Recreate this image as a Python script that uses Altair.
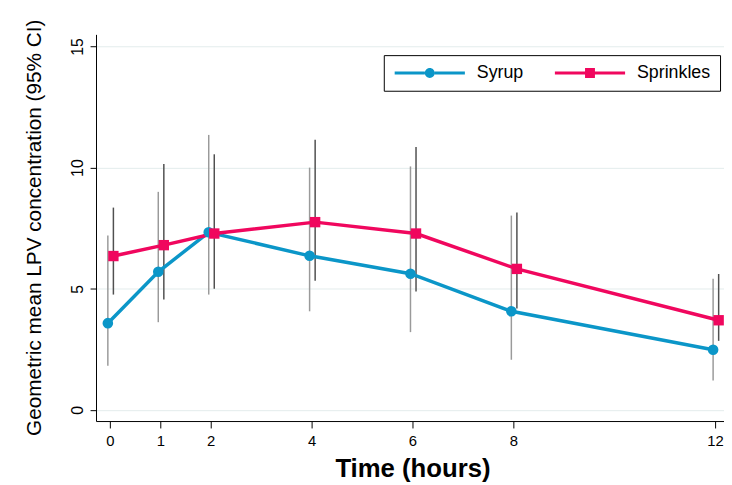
import altair as alt
import pandas as pd

# ---- data ----
times = [0, 1, 2, 4, 6, 8, 12]
series_names = ["Syrup", "Sprinkles"]

syrup_mean = [3.58, 5.70, 7.33, 6.36, 5.62, 4.07, 2.48]
syrup_lo = [1.82, 3.62, 4.76, 4.07, 3.21, 2.07, 1.21]
syrup_hi = [7.20, 9.00, 11.35, 10.00, 10.05, 8.02, 5.41]

spr_mean = [6.35, 6.80, 7.28, 7.75, 7.28, 5.82, 3.70]
spr_lo = [4.76, 4.56, 5.00, 5.33, 4.89, 4.19, 2.85]
spr_hi = [8.35, 10.15, 10.55, 11.15, 10.85, 8.15, 5.61]

rows = []
for t, m, lo, hi in zip(times, syrup_mean, syrup_lo, syrup_hi):
    rows.append({"time": t, "series": "Syrup", "mean": m, "lo": lo, "hi": hi})
for t, m, lo, hi in zip(times, spr_mean, spr_lo, spr_hi):
    rows.append({"time": t, "series": "Sprinkles", "mean": m, "lo": lo, "hi": hi})
df = pd.DataFrame(rows)

# ---- style ----
FONT = "Liberation Sans"
C_SYR = "#0b96c8"
C_SPR = "#f0075e"

SYR_PATH = ("M-1,-0.214H3.356V0.214H-1Z M4.784,-0.214H9.14V0.214H4.784Z "
            "M4.784,0A0.714,0.714 0 1,1 3.356,0A0.714,0.714 0 1,1 4.784,0Z")
SPR_PATH = "M-1,-0.214H9.14V0.214H-1Z M3.356,-0.714H4.784V0.714H3.356Z"

x_scale = alt.Scale(domain=[-0.2745, 12.176], nice=False, zero=False)
y_scale = alt.Scale(domain=[-0.46, 15.5], nice=False, zero=False)

x_axis = alt.Axis(
    values=times, title="Time (hours)", grid=False, format="d",
    tickSize=7, tickColor="black", domainColor="black", domainWidth=1,
    labelFontSize=15, labelPadding=6, labelFlush=False, labelOverlap=False,
    labelColor="black",
    titleFontSize=26, titleFontWeight="bold", titleColor="black",
    titleX=320, titleY=56, titleAlign="center", titleBaseline="alphabetic",
)
y_axis = alt.Axis(
    values=[0, 5, 10, 15], title="Geometric mean LPV concentration (95% CI)",
    grid=True, gridColor="#e3ecec", gridWidth=1,
    tickSize=6, tickColor="black", domainColor="black", domainWidth=1,
    labelAngle=270, labelAlign="center", labelBaseline="bottom",
    labelPadding=5, labelFontSize=16, labelColor="black", labelFlush=False,
    titleFontSize=21, titleFontWeight="normal", titleColor="black",
    titleAngle=270, titleX=-56, titleY=195, titleAlign="center",
    titleBaseline="alphabetic",
)

legend = alt.Legend(
    orient="none", legendX=291, legendY=21, direction="horizontal",
    title=None, strokeColor="black", fillColor="white", padding=9,
    labelFont=FONT, labelFontSize=18, labelColor="black",
    symbolSize=196, symbolStrokeWidth=0, symbolOpacity=1,
    labelOffset=67, columnPadding=29,
)

color_scale = alt.Scale(domain=series_names, range=[C_SYR, C_SPR])
legend_shape_scale = alt.Scale(domain=series_names, range=[SYR_PATH, SPR_PATH])

base = alt.Chart(df).transform_calculate(
    xpos="datum.time + (datum.series === 'Syrup' ? -0.04 : 0.07)",
    ecol="datum.series === 'Syrup' ? '#9a9a9a' : '#505050'",
)

X = alt.X("xpos:Q", scale=x_scale, axis=x_axis)
Y = alt.Y("mean:Q", scale=y_scale, axis=y_axis)
COLOR = alt.Color("series:N", scale=color_scale, legend=legend)

rules = base.mark_rule(strokeWidth=1.5).encode(
    x=X,
    y=alt.Y("lo:Q", scale=y_scale, axis=y_axis),
    y2="hi:Q",
    stroke=alt.Stroke("ecol:N", scale=None),
)

lines = base.mark_line(strokeWidth=3.5).encode(
    x=X, y=Y, color=COLOR, detail="series:N",
)

circles = base.transform_filter("datum.series === 'Syrup'").mark_point(
    filled=True, shape="circle", size=115, opacity=1, strokeWidth=0
).encode(x=X, y=Y, color=COLOR)

squares = base.transform_filter("datum.series === 'Sprinkles'").mark_point(
    filled=True, shape="square", size=110, opacity=1, strokeWidth=0
).encode(x=X, y=Y, color=COLOR)

# legend-key layer: zero-size points, only supplies line+marker legend symbols
legend_layer = base.mark_point(
    filled=True, opacity=1, strokeWidth=0, size=0
).encode(
    x=X, y=Y, color=COLOR,
    shape=alt.Shape("series:N", scale=legend_shape_scale, legend=legend),
)

chart = alt.layer(rules, lines, circles, squares, legend_layer).properties(
    width=635, height=391,
    autosize=alt.AutoSizeParams(type="none"),
    padding={"left": 89, "top": 24, "right": 0, "bottom": 62},
    background="white",
).configure(font=FONT).configure_view(stroke=None)

chart.save("out.html", embed_options={"renderer": "svg", "actions": False})
